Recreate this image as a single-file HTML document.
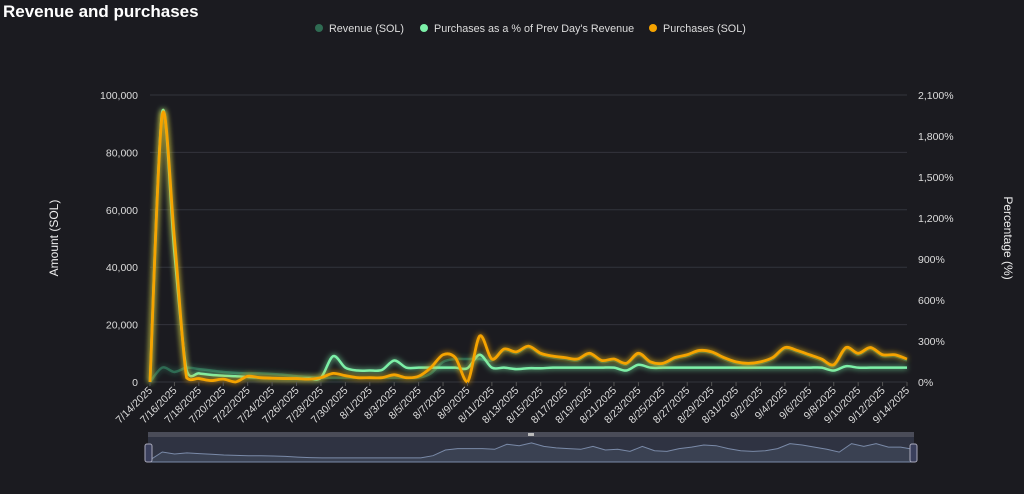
<!DOCTYPE html>
<html><head><meta charset="utf-8"><style>
html,body{margin:0;padding:0;background:#1b1b20;}
body{width:1024px;height:489px;overflow:hidden;font-family:"Liberation Sans",sans-serif;}
svg text{font-family:"Liberation Sans",sans-serif;}
</style></head><body>
<svg id="s" width="1024" height="489" xmlns="http://www.w3.org/2000/svg">
<defs>
<filter id="glow" x="-20%" y="-20%" width="140%" height="140%"><feGaussianBlur stdDeviation="3" result="b"/><feMerge><feMergeNode in="b"/><feMergeNode in="SourceGraphic"/></feMerge></filter>
</defs>
<rect width="1024" height="489" fill="#1b1b20"/>
<text x="3" y="17" fill="#fff" font-size="17" font-weight="bold">Revenue and purchases</text>
<g font-size="10.8" fill="#ddd">
<circle cx="319" cy="28" r="4" fill="#2f6b52"/><text x="329" y="32">Revenue (SOL)</text>
<circle cx="424" cy="28" r="4" fill="#7cf0a8"/><text x="434" y="32">Purchases as a % of Prev Day's Revenue</text>
<circle cx="653" cy="28" r="4" fill="#f5a300"/><text x="663" y="32">Purchases (SOL)</text>
</g>
<g id="grid"></g>
<text transform="translate(58,238) rotate(-90)" text-anchor="middle" fill="#eee" font-size="12">Amount (SOL)</text>
<text transform="translate(1004,238) rotate(90)" text-anchor="middle" fill="#eee" font-size="12">Percentage (%)</text>
<g id="series"></g>
<g id="xl" font-size="10.5" fill="#ddd"></g>
<rect x="148" y="432" width="766" height="5" fill="#4a4c58"/>
<rect x="148" y="437" width="766" height="25" fill="#2f3342"/>
<path id="mini" fill="#3a4152" stroke="#7a8aa8" stroke-width="1"/>
<rect x="528" y="433" width="6" height="3" fill="#bbb"/>
<rect x="145" y="444" width="7" height="18" rx="2" fill="#3a3f5c" stroke="#aab" stroke-width="1"/>
<rect x="910" y="444" width="7" height="18" rx="2" fill="#3a3f5c" stroke="#aab" stroke-width="1"/>
</svg>
<script>
const NS="http://www.w3.org/2000/svg";
const x0=150,x1=907,yT=95,yB=382;
const g=document.getElementById('grid');
function el(t,a,p){const e=document.createElementNS(NS,t);for(const k in a)e.setAttribute(k,a[k]);p.appendChild(e);return e;}
const lv=['0','20,000','40,000','60,000','80,000','100,000'];
const rv=['0%','300%','600%','900%','1,200%','1,500%','1,800%','2,100%'];
for(let i=0;i<6;i++){const y=yB-i*(yB-yT)/5;el('line',{x1:x0,x2:x1,y1:y,y2:y,stroke:'#33343c','stroke-width':1},g);
 const t=el('text',{x:138,y:y+4,'text-anchor':'end',fill:'#ddd','font-size':'10.5'},g);t.textContent=lv[i];}
for(let i=0;i<8;i++){const y=yB-i*(yB-yT)/7;const t=el('text',{x:918,y:y+4,fill:'#ddd','font-size':'10.5'},g);t.textContent=rv[i];}
const P=[0,93000,50000,1500,1200,500,1000,0,2000,1500,1300,1200,1200,1000,1500,3000,2200,1500,1500,1500,2500,1500,2000,5000,9500,8500,0,16000,8000,11500,10500,12500,10000,9000,8500,8000,10000,7500,8000,6500,10000,7000,6500,8500,9500,11000,10500,8500,7000,6500,7000,8500,12000,11000,9500,8000,6000,12000,10000,12000,9500,9500,8000];
const G=[0,94000,45000,4000,3000,2500,2200,2000,1800,1500,1300,1200,1200,1200,1500,9000,5000,4000,4000,4200,7500,5000,5000,5000,5000,5000,4800,9500,5000,5000,4500,4800,4800,5000,5000,5000,5000,5000,5000,4000,6000,5000,5000,5000,5000,5000,5000,5000,5000,5000,5000,5000,5000,5000,5000,5000,4000,5500,5000,5000,5000,5000,5000];
const R=[0,5000,3500,5000,4500,4000,3500,3200,3000,3000,2800,2500,2000,1700,1500,1500,1500,1500,1500,1500,1500,1500,1500,3000,7000,8000,8000,8000];
for(let i=28;i<63;i++)R.push(Math.max(5000,P[i]-500));
const dx=(x1-x0)/62;
function pts(a,ys){return a.map((v,i)=>[x0+i*dx,ys(v)]);}
function path(p){let d='M'+p[0][0]+','+p[0][1];for(let i=0;i<p.length-1;i++){const a=p[i-1]||p[i],b=p[i],c=p[i+1],e=p[i+2]||c;const t=0.16;
 const c1=Math.max(yT-5,Math.min(yB,b[1]+(c[1]-a[1])*t)),c2=Math.max(yT-5,Math.min(yB,c[1]-(e[1]-b[1])*t));
 d+=` C${b[0]+(c[0]-a[0])*t},${c1} ${c[0]-(e[0]-b[0])*t},${c2} ${c[0]},${c[1]}`;}return d;}
const ys=v=>yB-v/100000*(yB-yT);
const s=document.getElementById('series');
el('path',{d:path(pts(R,ys)),fill:'none',stroke:'#2f6b52','stroke-width':2.5,filter:'url(#glow)'},s);
el('path',{d:path(pts(G,ys)),fill:'none',stroke:'#7cf0a8','stroke-width':2.5,filter:'url(#glow)'},s);
el('path',{d:path(pts(P,ys)),fill:'none',stroke:'#f5a300','stroke-width':2.8,filter:'url(#glow)'},s);
const xl=document.getElementById('xl');
const start=new Date(2025,6,14);
for(let i=0;i<63;i+=2){const d=new Date(start.getTime()+i*86400000+3600000*12);const lab=(d.getMonth()+1)+'/'+d.getDate()+'/2025';
 const x=x0+i*dx;el('line',{x1:x,x2:x,y1:yB,y2:yB+4,stroke:'#555'},xl);
 const t=el('text',{x:x+3,y:yB+9,'text-anchor':'end',transform:`rotate(-45 ${x+3} ${yB+9})`},xl);t.textContent=lab;}
const mdx=(913-150)/62;let md='M150,462';R.forEach((v,i)=>{const y=460-Math.min(v,14000)/14000*20;md+=` L${(150+i*mdx).toFixed(1)},${i<3?460-[0,8,6][i]:y.toFixed(1)}`;});md+=' L913,462 Z';
document.getElementById('mini').setAttribute('d',md);
</script>
</body></html>
